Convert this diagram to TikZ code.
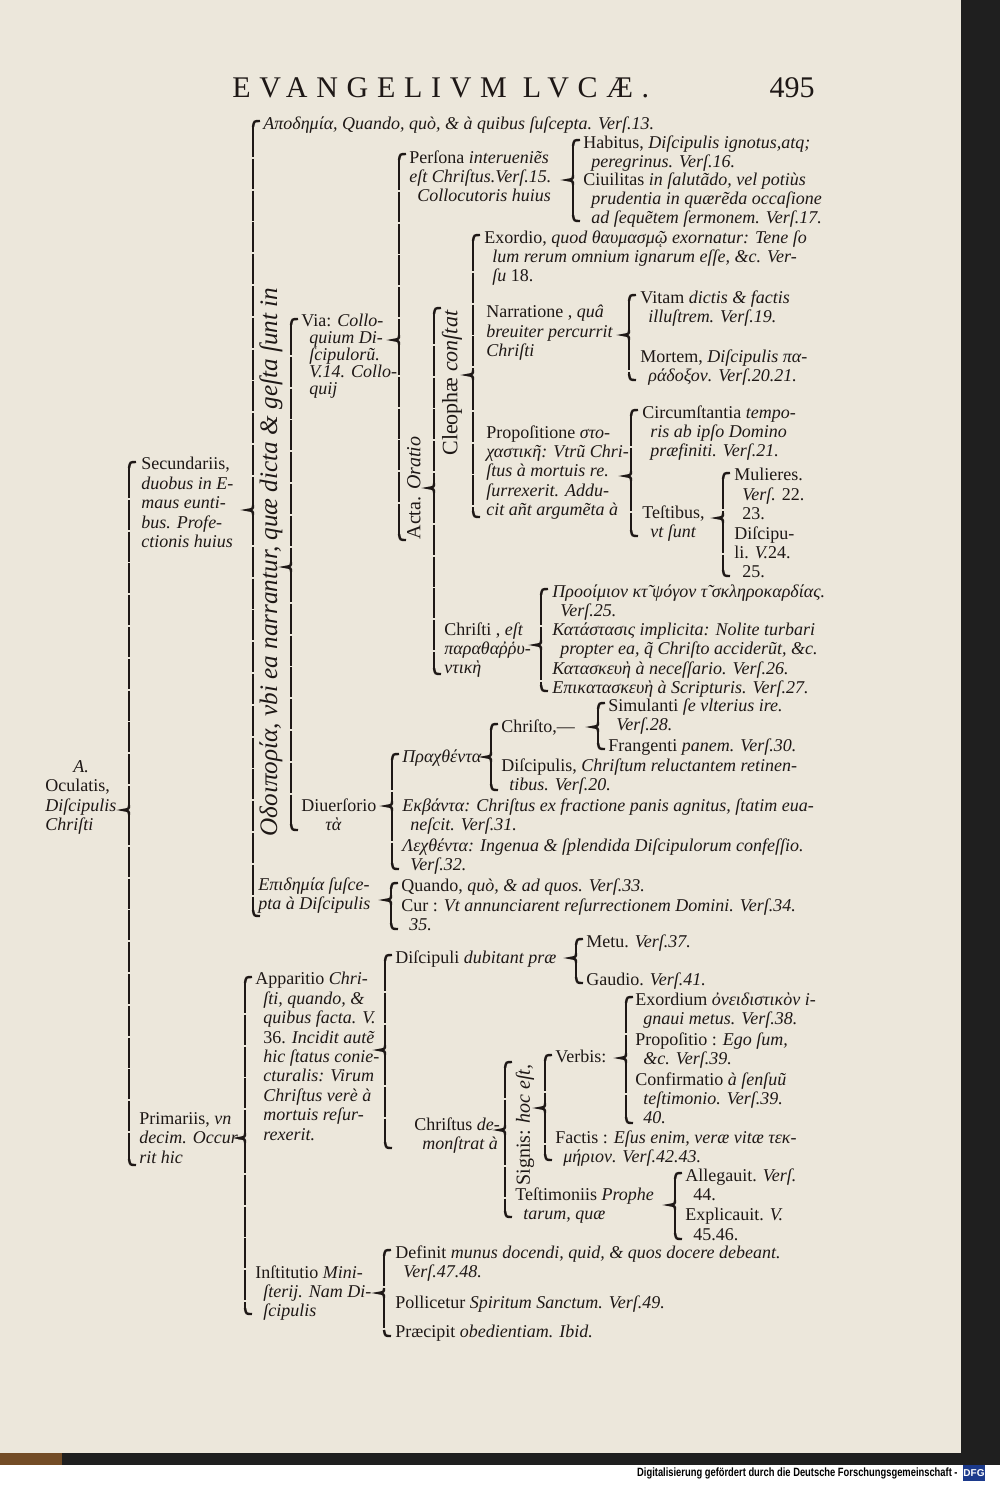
\documentclass[tikz,border=0pt]{standalone}
\usepackage{fontspec}
\setmainfont{Liberation Serif}
\newfontfamily\footfont{Liberation Sans}
\usetikzlibrary{positioning}
\definecolor{paper}{RGB}{236,231,219}
\definecolor{ink}{RGB}{30,24,22}
\definecolor{dfgblue}{RGB}{28,58,140}
\tikzset{txt/.style={anchor=north west,inner sep=0pt,align=left,text=ink,font=\fontsize{9}{9.7}\selectfont}}
\tikzset{rot/.style={rotate=90,inner sep=0pt,text=ink}}
\tikzset{brk/.style={draw=ink,line width=1.2pt}}
\tikzset{rule/.style={brk,dash pattern=on 15pt off 0.9pt}}
\newcommand\idt{\hspace*{4pt}}
\newcommand\tabbrace[4]{%
  \draw[brk] (#1+7,#2) .. controls (#1+1,#2) .. (#1,#2+6);
  \draw[rule] (#1,#2+6) -- (#1,#4-5);
  \draw[brk] (#1,#4-5) .. controls (#1,#4-1) .. (#1-6,#4) .. controls (#1,#4+1) .. (#1,#4+5);
  \draw[rule] (#1,#4+5) -- (#1,#3-6);
  \draw[brk] (#1,#3-6) .. controls (#1+1,#3) .. (#1+7,#3);}

\begin{document}
\begin{tikzpicture}[x=0.5pt,y=-0.5pt]
    \useasboundingbox (0,0) rectangle (1000,1485);
    \fill[paper] (0,0) rectangle (961,1453);
    \fill[black!88] (961,0) rectangle (1000,1465);
    \fill[black!88] (0,1453) rectangle (1000,1465);
    \fill[brown!60!black] (0,1453) rectangle (62,1465);

    \node[anchor=west,inner sep=0pt,text=ink,font={\fontsize{15}{15}\selectfont\addfontfeatures{LetterSpace=29}}] (title) at (232,88) {EVANGELIVM LVCÆ.};
    \node[anchor=east,inner sep=0pt,text=ink,font=\fontsize{15}{15}\selectfont] (page) at (815,88) {495};

    \node[txt] (oculatis) at (45,760) {\hspace*{14pt}\textit{A.}\\Oculatis,\\\textit{Diſcipulis}\\\textit{Chriſti}};
    \node[txt] (secund) at (141,457) {Secundariis,\\\textit{duobus in E-}\\\textit{maus eunti-}\\\textit{bus. Profe-}\\\textit{ctionis huius}};
    \node[txt] (primar) at (139,1112) {Primariis, \textit{vn}\\\textit{decim. Occur-}\\\textit{rit hic}};

    \node[txt] (apod) at (263,116) {\textit{Αποδημία, Quando, quò, \& à quibus ſuſcepta. Verſ.13.}};
    \node[rot,font=\fontsize{12.6}{12}\selectfont\itshape] (odoip) at (271,562) {Οδοιπορία, vbi ea narrantur, quæ dicta \& geſta ſunt in};
    \node[txt] (epidem) at (258,877) {\textit{Επιδημία ſuſce-}\\\textit{pta à Diſcipulis}};

    \node[txt,font=\fontsize{9}{8.4}\selectfont] (via) at (301,314) {Via: \textit{Collo-}\\\idt\textit{quium Di-}\\\idt\textit{ſcipulorũ.}\\\idt\textit{V.14. Collo-}\\\idt\textit{quij}};
    \node[txt] (persona) at (409,150) {Perſona \textit{interueniẽs}\\\textit{eſt Chriſtus.Verſ.15.}\\\idt\textit{Collocutoris huius}};
    \node[txt] (habitus) at (583,135) {Habitus, \textit{Diſcipulis ignotus,atq;}\\\idt\textit{peregrinus. Verſ.16.}};
    \node[txt] (ciuil) at (583,172) {Ciuilitas \textit{in ſalutãdo, vel potiùs}\\\idt\textit{prudentia in quærẽda occaſione}\\\idt\textit{ad ſequẽtem ſermonem. Verſ.17.}};
    \node[rot,font=\fontsize{10}{10}\selectfont] (acta) at (414,488) {Acta. \textit{Oratio}};
    \node[rot,font=\fontsize{11}{11}\selectfont] (cleoph) at (452,383) {Cleophæ \textit{conſtat}};

    \node[txt] (exord) at (484,230) {Exordio, \textit{quod θαυμασμῷ exornatur: Tene ſo}\\\idt\textit{lum rerum omnium ignarum eſſe, \&c. Ver-}\\\idt\textit{ſu} 18.};
    \node[txt] (narrat) at (486,305) {Narratione , \textit{quâ}\\\textit{breuiter percurrit}\\\textit{Chriſti}};
    \node[txt] (vitam) at (640,290) {Vitam \textit{dictis \& factis}\\\idt\textit{illuſtrem. Verſ.19.}};
    \node[txt] (mortem) at (640,349) {Mortem, \textit{Diſcipulis πα-}\\\idt\textit{ράδοξον. Verſ.20.21.}};
    \node[txt] (propos) at (486,425) {Propoſitione \textit{στο-}\\\textit{χαστικῆ: Vtrũ Chri-}\\\textit{ſtus à mortuis re.}\\\textit{ſurrexerit. Addu-}\\\textit{cit añt argumẽta à}};
    \node[txt] (circum) at (642,405) {Circumſtantia \textit{tempo-}\\\idt\textit{ris ab ipſo Domino}\\\idt\textit{præfiniti. Verſ.21.}};
    \node[txt] (testib) at (642,505) {Teſtibus,\\\idt\textit{vt ſunt}};
    \node[txt] (mulier) at (734,468) {Mulieres.\\\idt\textit{Verſ.} 22.\\\idt 23.};
    \node[txt] (discA) at (734,526) {Diſcipu-\\li. \textit{V.}24.\\\idt 25.};

    \node[txt] (christi) at (444,622) {Chriſti , \textit{eſt}\\\textit{παραθαῤῥυ-}\\\textit{ντικὴ}};
    \node[txt] (prooim) at (552,584) {\textit{Προοίμιον κτ̃ ψόγον τ̃ σκληροκαρδίας.}\\\idt\textit{Verſ.25.}};
    \node[txt] (katast) at (552,622) {\textit{Κατάστασις implicita: Nolite turbari}\\\idt\textit{propter ea, q̃ Chriſto acciderũt, \&c.}};
    \node[txt] (katask) at (552,661) {\textit{Κατασκευὴ à neceſſario. Verſ.26.}};
    \node[txt] (epikat) at (552,680) {\textit{Επικατασκευὴ à Scripturis. Verſ.27.}};

    \node[txt] (simul) at (608,698) {Simulanti \textit{ſe vlterius ire.}\\\idt\textit{Verſ.28.}};
    \node[txt] (christo) at (501,719) {Chriſto,—};
    \node[txt] (frang) at (608,738) {Frangenti \textit{panem. Verſ.30.}};
    \node[txt] (praxth) at (402,749) {\textit{Πραχθέντα}};
    \node[txt] (discB) at (501,758) {Diſcipulis, \textit{Chriſtum reluctantem retinen-}\\\idt\textit{tibus. Verſ.20.}};
    \node[txt] (diuers) at (301,798) {Diuerſorio\\\hspace*{12pt}\textit{τὰ}};
    \node[txt] (ekbant) at (402,798) {\textit{Εκβάντα: Chriſtus ex fractione panis agnitus, ſtatim eua-}\\\idt\textit{neſcit. Verſ.31.}};
    \node[txt] (lexth) at (402,838) {\textit{Λεχθέντα: Ingenua \& ſplendida Diſcipulorum confeſſio.}\\\idt\textit{Verſ.32.}};
    \node[txt] (quando) at (401,878) {Quando, \textit{quò, \& ad quos. Verſ.33.}};
    \node[txt] (cur) at (401,898) {Cur : \textit{Vt annunciarent reſurrectionem Domini. Verſ.34.}\\\idt\textit{35.}};

    \node[txt] (appar) at (255,972) {Apparitio \textit{Chri-}\\\idt\textit{ſti, quando, \&}\\\idt\textit{quibus facta. V.}\\\idt 36. \textit{Incidit autẽ}\\\idt\textit{hic ſtatus conie-}\\\idt\textit{cturalis: Virum}\\\idt\textit{Chriſtus verè à}\\\idt\textit{mortuis reſur-}\\\idt\textit{rexerit.}};
    \node[txt] (dubit) at (395,950) {Diſcipuli \textit{dubitant præ}};
    \node[txt] (metu) at (586,934) {Metu. \textit{Verſ.37.}};
    \node[txt] (gaudio) at (586,972) {Gaudio. \textit{Verſ.41.}};
    \node[txt] (demon) at (414,1117) {Chriſtus \textit{de-}\\\idt\textit{monſtrat à}};
    \node[rot,font=\fontsize{10}{10}\selectfont] (signis) at (525,1125) {Signis: \textit{hoc eſt,}};
    \node[txt] (verbis) at (555,1050) {Verbis:};
    \node[txt] (exordm) at (635,992) {Exordium \textit{ὀνειδιστικὸν i-}\\\idt\textit{gnaui metus. Verſ.38.}};
    \node[txt] (propo) at (635,1032) {Propoſitio : \textit{Ego ſum,}\\\idt\textit{\&c. Verſ.39.}};
    \node[txt] (confirm) at (635,1072) {Confirmatio \textit{à ſenſuũ}\\\idt\textit{teſtimonio. Verſ.39.}\\\idt\textit{40.}};
    \node[txt] (factis) at (555,1130) {Factis : \textit{Eſus enim, veræ vitæ τεκ-}\\\idt\textit{μήριον. Verſ.42.43.}};
    \node[txt] (testim) at (515,1187) {Teſtimoniis \textit{Prophe}\\\idt\textit{tarum, quæ}};
    \node[txt] (alleg) at (685,1168) {Allegauit. \textit{Verſ.}\\\idt 44.};
    \node[txt] (explic) at (685,1208) {Explicauit. \textit{V.}\\\idt 45.46.};
    \node[txt] (instit) at (255,1265) {Inſtitutio \textit{Mini-}\\\idt\textit{ſterij. Nam Di-}\\\idt\textit{ſcipulis}};
    \node[txt] (defin) at (395,1245) {Definit \textit{munus docendi, quid, \& quos docere debeant.}\\\idt\textit{Verſ.47.48.}};
    \node[txt] (pollic) at (395,1295) {Pollicetur \textit{Spiritum Sanctum. Verſ.49.}};
    \node[txt] (praec) at (395,1325) {Præcipit \textit{obedientiam. Ibid.}};

    \tabbrace{129}{462}{1165}{810}
    \tabbrace{253}{121}{916}{510}
    \tabbrace{291}{319}{830}{567}
    \tabbrace{399}{154}{540}{340}
    \tabbrace{573}{140}{221}{180}
    \tabbrace{434}{308}{674}{488}
    \tabbrace{473}{235}{517}{375}
    \tabbrace{629}{295}{380}{335}
    \tabbrace{631}{410}{536}{476}
    \tabbrace{723}{473}{576}{518}
    \tabbrace{541}{589}{691}{645}
    \tabbrace{392}{754}{869}{806}
    \tabbrace{491}{724}{790}{757}
    \tabbrace{598}{703}{749}{727}
    \tabbrace{391}{883}{929}{900}
    \tabbrace{245}{977}{1314}{1138}
    \tabbrace{385}{955}{1148}{1050}
    \tabbrace{576}{939}{983}{958}
    \tabbrace{505}{1062}{1217}{1130}
    \tabbrace{545}{1055}{1160}{1108}
    \tabbrace{626}{997}{1123}{1058}
    \tabbrace{675}{1173}{1239}{1205}
    \tabbrace{384}{1250}{1336}{1293}

    \node[anchor=east,inner sep=0pt,font=\footfont\bfseries\fontsize{6}{6}\selectfont] (foot) at (958,1473) {\scalebox{0.78}[1]{Digitalisierung gefördert durch die Deutsche Forschungsgemeinschaft -}};
    \node[fill=dfgblue,text=white,inner sep=0pt,minimum width=11pt,minimum height=8pt,font=\footfont\bfseries\fontsize{5}{5}\selectfont] (dfg) at (974,1473) {DFG};
\end{tikzpicture}
\end{document}
